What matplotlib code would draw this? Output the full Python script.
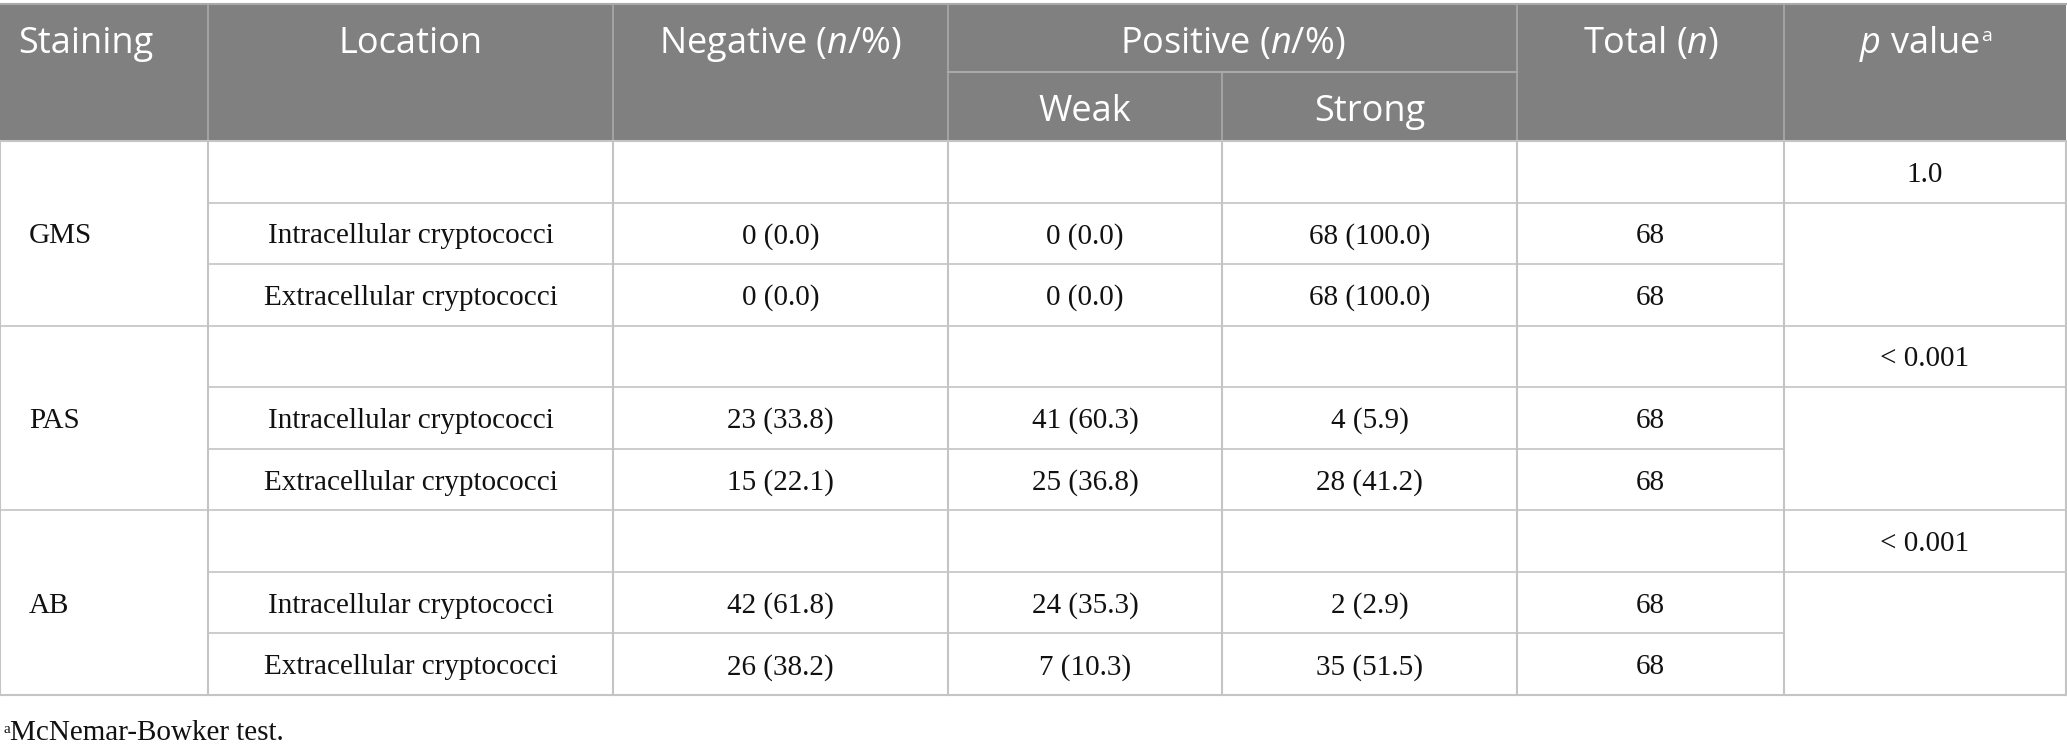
import matplotlib
matplotlib.use('Agg')
import matplotlib.pyplot as plt
from matplotlib.patches import Rectangle

plt.rcParams['mathtext.fontset'] = 'custom'
plt.rcParams['mathtext.rm'] = 'Open Sans'
plt.rcParams['mathtext.it'] = 'Open Sans:italic'

# table data
stainings = ['GMS', 'PAS', 'AB']
locations = ['Intracellular cryptococci', 'Extracellular cryptococci']
neg_n = [[0, 0], [23, 15], [42, 26]]
neg_pct = [[0.0, 0.0], [33.8, 22.1], [61.8, 38.2]]
weak_n = [[0, 0], [41, 25], [24, 7]]
weak_pct = [[0.0, 0.0], [60.3, 36.8], [35.3, 10.3]]
strong_n = [[68, 68], [4, 28], [2, 35]]
strong_pct = [[100.0, 100.0], [5.9, 41.2], [2.9, 51.5]]
totals = [[68, 68], [68, 68], [68, 68]]
p_values = ['1.0', '< 0.001', '< 0.001']
footnote = 'McNemar-Bowker test.'

# layout (pixels)
W, H = 2067, 746
cols = [0, 208, 613, 948, 1222, 1517, 1784, 2066]
top, sub, head_bot = 4, 72, 141
row_h = (695 - head_bot) / 9

header_bg = '#808080'
head_line = '#a9a9a9'
line_col = '#c4c4c4'
sans = 'Open Sans'
serif = 'Liberation Serif'
hsize = 26
bsize = 21

fig = plt.figure(figsize=(W / 100, H / 100), dpi=100)
ax = fig.add_axes([0, 0, 1, 1])
ax.set_xlim(0, W)
ax.set_ylim(H, 0)
ax.axis('off')

# header
ax.add_patch(Rectangle((0, top), cols[-1], head_bot - top, color=header_bg, lw=0))
ax.plot([0, cols[-1]], [top, top], color=head_line, lw=1.5)
for x in [208, 613, 948, 1517, 1784]:
    ax.plot([x, x], [top, head_bot], color=head_line, lw=1.2)
ax.plot([1222, 1222], [sub, head_bot], color=head_line, lw=1.2)
ax.plot([948, 1517], [sub, sub], color=head_line, lw=1.5)

def mid(a, b):
    return (a + b) / 2

def head(x, y, s, ha='center'):
    return ax.text(x, y, s, color='white', fontsize=hsize, family=sans, va='baseline', ha=ha)

hy = 53
head(18, hy, 'Staining', ha='left')
head(mid(208, 613), hy, 'Location')
head(mid(613, 948), hy, 'Negative ($n$/%)')
head(mid(948, 1517), hy, 'Positive ($n$/%)')
head(mid(948, 1222), 121, 'Weak')
head(mid(1222, 1517), 121, 'Strong')
head(mid(1517, 1784), hy, 'Total ($n$)')
pv = head(mid(1784, 2066) - 6, hy, '$p$ value')
ax.annotate('a', xy=(1, 1), xycoords=pv, xytext=(1, -2), textcoords='offset points',
            color='white', fontsize=14, family=sans, va='top', ha='left')

# body grid
bot = head_bot + 9 * row_h
for x in cols:
    ax.plot([x, x], [head_bot, bot], color=line_col, lw=1.5)
for k in range(10):
    y = head_bot + k * row_h
    if k % 3 == 0:
        ax.plot([0, cols[-1]], [y, y], color=line_col, lw=1.5 if k in (0, 9) else 1.2)
    elif k % 3 == 1:
        ax.plot([208, cols[-1]], [y, y], color=line_col, lw=1.2)
    else:
        ax.plot([208, 1784], [y, y], color=line_col, lw=1.2)

# body text (baseline a little below row centre)
def body(x, y, s, ha='center'):
    ax.text(x, y + 10, s, fontsize=bsize, family=serif, va='baseline', ha=ha, color='#111111')

for g, stain in enumerate(stainings):
    y0 = head_bot + 3 * g * row_h
    body(29, y0 + 1.5 * row_h, stain, ha='left')
    body(mid(1784, 2066), y0 + 0.5 * row_h, p_values[g])
    for r, loc in enumerate(locations):
        y = y0 + (r + 1.5) * row_h
        cells = [loc,
                 '{} ({:.1f})'.format(neg_n[g][r], neg_pct[g][r]),
                 '{} ({:.1f})'.format(weak_n[g][r], weak_pct[g][r]),
                 '{} ({:.1f})'.format(strong_n[g][r], strong_pct[g][r]),
                 str(totals[g][r])]
        for c, txt in enumerate(cells):
            body(mid(cols[c + 1], cols[c + 2]), y, txt)

# footnote
ax.text(3, 733, 'a', fontsize=11, family=serif, va='baseline', ha='left', color='#111111')
ax.text(10, 740, footnote, fontsize=bsize, family=serif, va='baseline', ha='left', color='#111111')

fig.savefig('out.png', dpi=100)
